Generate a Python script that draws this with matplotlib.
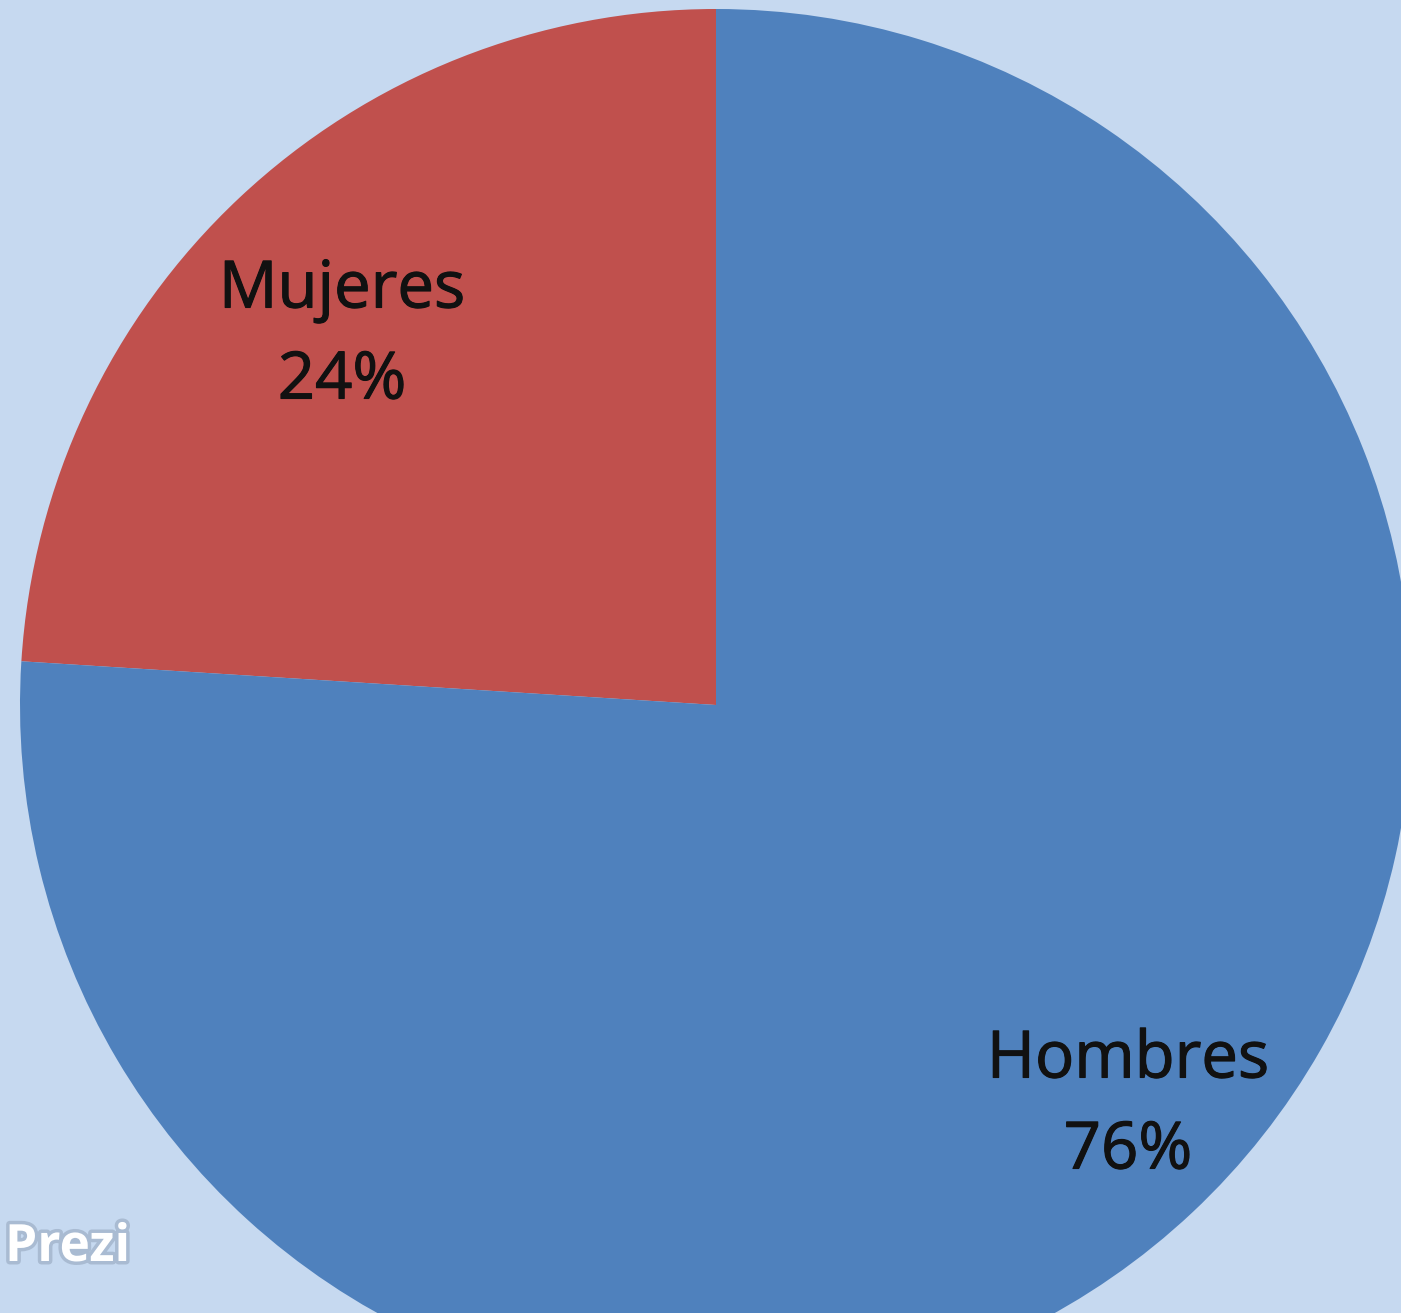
import matplotlib.pyplot as plt
import matplotlib.patheffects as pe

# Datos
categorias = ["Mujeres", "Hombres"]
porcentajes = [24, 76]
colores = ["#c0504d", "#4f81bd"]

W, H = 1401, 1313
fig = plt.figure(figsize=(W / 100, H / 100), dpi=100)
fig.patch.set_facecolor("#c6d9f0")
ax = fig.add_axes([0, 0, 1, 1])

etiquetas = [f"{c}\n{p}%" for c, p in zip(categorias, porcentajes)]
wedges, texts = ax.pie(porcentajes, labels=etiquetas, colors=colores,
                       startangle=90, counterclock=True,
                       center=(716, H - 705), radius=696,
                       labeldistance=0.79, frame=True,
                       textprops=dict(fontsize=47, color="#111111",
                                      family="Open Sans", linespacing=1.5))
# posiciones de las etiquetas como en el original
pos_etiquetas = [(342, H - 336), (1128, H - 1106)]
for t, p in zip(texts, pos_etiquetas):
    t.set_position(p)
    t.set_ha("center")
    t.set_va("center")
    t.set_path_effects([pe.withStroke(linewidth=0.8, foreground="#111111")])
ax.set_xlim(0, W)
ax.set_ylim(0, H)
ax.set_aspect("equal")
ax.axis("off")

# marca de agua
ax.text(5, H - 1248, "Prezi", fontsize=37, fontweight="bold", color="white",
        family="Open Sans", ha="left", va="center",
        path_effects=[pe.withStroke(linewidth=5, foreground="#a9bbd2")])

fig.savefig("out.png", dpi=100, facecolor=fig.get_facecolor())
